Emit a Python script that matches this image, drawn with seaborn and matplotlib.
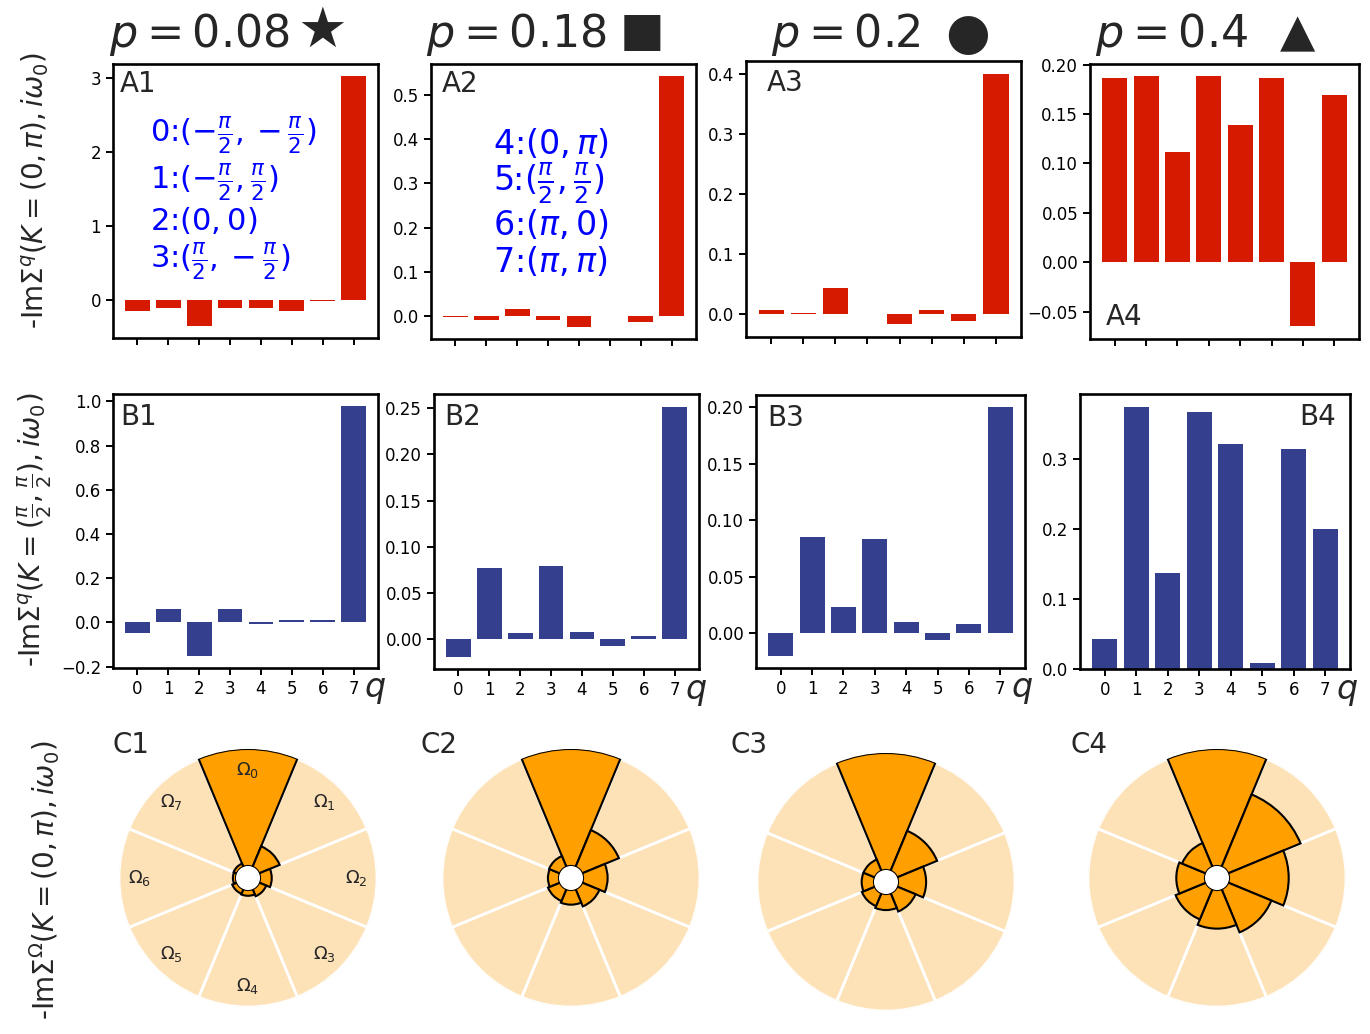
import numpy as np
import matplotlib
matplotlib.use("Agg")
import matplotlib.pyplot as plt
from matplotlib.ticker import MultipleLocator
import seaborn as sns

# momentum transfer index
q = [0, 1, 2, 3, 4, 5, 6, 7]

p_titles = [r"$p=0.08$", r"$p=0.18$", r"$p=0.2$", r"$p=0.4$"]
p_markers = ["★", "■", "●", "▲"]

# -Im Sigma^q (K=(0,pi)) per q, one list per p
a_p008 = [-0.143, -0.11, -0.345, -0.11, -0.11, -0.143, -0.008, 3.02]
a_p018 = [-0.002, -0.009, 0.016, -0.009, -0.024, -0.001, -0.013, 0.542]
a_p020 = [0.006, 0.001, 0.043, -0.001, -0.018, 0.006, -0.013, 0.400]
a_p040 = [0.186, 0.188, 0.112, 0.188, 0.139, 0.186, -0.065, 0.169]

# -Im Sigma^q (K=(pi/2,pi/2)) per q
b_p008 = [-0.048, 0.060, -0.150, 0.060, -0.007, 0.010, 0.010, 0.977]
b_p018 = [-0.019, 0.0767, 0.0065, 0.079, 0.0076, -0.0076, 0.0032, 0.252]
b_p020 = [-0.020, 0.0853, 0.0229, 0.0836, 0.0097, -0.0062, 0.0079, 0.1997]
b_p040 = [0.0427, 0.374, 0.1376, 0.367, 0.321, 0.008, 0.314, 0.200]

# -Im Sigma^Omega (K=(0,pi)), normalised to the largest sector
c_full = [1, 1, 1, 1, 1, 1, 1, 1]
c_p008 = [1.0, 0.19, 0.10, 0.066, 0.049, 0.043, 0.026, 0.03]
c_p018 = [1.0, 0.34, 0.21, 0.16, 0.125, 0.11, 0.094, 0.10]
c_p020 = [1.0, 0.37, 0.24, 0.17, 0.137, 0.12, 0.105, 0.105]
c_p040 = [1.0, 0.67, 0.51, 0.40, 0.33, 0.28, 0.245, 0.22]

omega_labels = [rf"$\Omega_{i}$" for i in range(8)]

# momentum legend text
legend_a1 = [r"0:$(-\frac{\pi}{2},-\frac{\pi}{2})$", r"1:$(-\frac{\pi}{2},\frac{\pi}{2})$",
             r"2:$(0,0)$", r"3:$(\frac{\pi}{2},-\frac{\pi}{2})$"]
legend_a2 = [r"4:$(0,\pi)$", r"5:$(\frac{\pi}{2},\frac{\pi}{2})$",
             r"6:$(\pi,0)$", r"7:$(\pi,\pi)$"]

a_vals = [a_p008, a_p018, a_p020, a_p040]
b_vals = [b_p008, b_p018, b_p020, b_p040]
c_vals = [c_p008, c_p018, c_p020, c_p040]

a_steps = [1.0, 0.1, 0.1, 0.05]
b_steps = [0.2, 0.05, 0.05, 0.1]

RED = "#d51a00"
BLUE = "#343f8e"
ORANGE = "#ff9f00"
LIGHT = "#fde2b8"

sns.set_style("ticks")
plt.rcParams.update({
    "font.family": ["DejaVu Sans"],
    "axes.edgecolor": "black",
    "axes.linewidth": 1.9,
    "xtick.color": "black",
    "ytick.color": "black",
    "xtick.major.width": 1.4,
    "ytick.major.width": 1.4,
    "xtick.major.size": 5,
    "ytick.major.size": 5,
    "xtick.labelsize": 12,
    "ytick.labelsize": 12,
})

W, H = 1370, 1034
fig = plt.figure(figsize=(W / 100, H / 100), dpi=100)


def px_rect(x0, y0, x1, y1):
    return [x0 / W, 1 - y1 / H, (x1 - x0) / W, (y1 - y0) / H]


a_rects = [px_rect(113, 64, 378, 338), px_rect(431, 64, 696, 339),
           px_rect(746, 61, 1021, 337), px_rect(1090, 64, 1359, 339)]
b_rects = [px_rect(113, 394, 378, 668), px_rect(434, 394, 699, 669),
           px_rect(756, 395, 1025, 668), px_rect(1080, 394, 1350, 669)]
c_centers = [(248, 878), (571, 878), (886, 882), (1217, 878)]
R = 129


def bar_panel(rect, vals, color, step):
    ax = fig.add_axes(rect)
    sns.barplot(x=q, y=vals, native_scale=True, orient="x", color=color,
                saturation=1, linewidth=0, errorbar=None, ax=ax)
    ax.set_xticks(q)
    ax.set_xlim(-0.79, 7.79)
    ax.yaxis.set_major_locator(MultipleLocator(step))
    ax.set_xlabel("")
    ax.set_ylabel("")
    for s in ax.spines.values():
        s.set_visible(True)
    return ax


# row A
a_tags = [("A1", 0.026, 0.927, "left"), ("A2", 0.04, 0.927, "left"),
          ("A3", 0.076, 0.92, "left"), ("A4", 0.06, 0.08, "left")]
for i in range(4):
    ax = bar_panel(a_rects[i], a_vals[i], RED, a_steps[i])
    ax.tick_params(labelbottom=False)
    tag, tx, ty, ha = a_tags[i]
    ax.text(tx, ty, tag, transform=ax.transAxes, fontsize=20, ha=ha, va="center")
    if i == 0:
        for txt, yy in zip(legend_a1, [0.74, 0.57, 0.43, 0.28]):
            ax.text(0.14, yy, txt, transform=ax.transAxes, color="blue",
                    fontsize=22, va="center")
    if i == 1:
        for txt, yy in zip(legend_a2, [0.71, 0.567, 0.415, 0.28]):
            ax.text(0.235, yy, txt, transform=ax.transAxes, color="blue",
                    fontsize=24, va="center")

# row B
b_tags = [("B1", 0.026, "left"), ("B2", 0.04, "left"),
          ("B3", 0.04, "left"), ("B4", 0.95, "right")]
for i in range(4):
    ax = bar_panel(b_rects[i], b_vals[i], BLUE, b_steps[i])
    tag, tx, ha = b_tags[i]
    ax.text(tx, 0.916, tag, transform=ax.transAxes, fontsize=20, ha=ha, va="center")
    ax.text(0.99, -0.08, r"$q$", transform=ax.transAxes, fontsize=24,
            ha="center", va="center")

# row C: polar sector charts
theta = np.deg2rad(np.arange(8) * 45.0)
sector = 2 * np.pi / 8
for i in range(4):
    cx, cy = c_centers[i]
    axp = fig.add_axes(px_rect(cx - R, cy - R, cx + R, cy + R), projection="polar")
    axp.set_theta_zero_location("N")
    axp.set_theta_direction(-1)
    axp.bar(theta, c_full, width=sector, bottom=0, color=LIGHT,
            edgecolor="white", linewidth=2)
    axp.bar(theta, c_vals[i], width=sector, bottom=0, color=ORANGE,
            edgecolor="black", linewidth=1.5)
    axp.set_ylim(0, 1)
    axp.set_rorigin(-0.103)
    axp.set_axis_off()
    if i == 0:
        for th, lab in zip(theta, omega_labels):
            axp.text(th, 0.82, lab, fontsize=13, ha="center", va="center")

c_tag_x = [113, 420, 731, 1070]
for i in range(4):
    fig.text(c_tag_x[i] / W, 1 - 745 / H, f"C{i + 1}", fontsize=20, va="center")

# column titles with their markers
title_x = [109, 426, 771, 1095]
marker_x = [322, 642, 968, 1297]
marker_y = [32, 32, 35, 34]
marker_fs = [40, 34, 37, 33]
for i in range(4):
    fig.text(title_x[i] / W, 1 - 34 / H, p_titles[i], fontsize=32,
             ha="left", va="center")
    fig.text(marker_x[i] / W, 1 - marker_y[i] / H, p_markers[i],
             fontsize=marker_fs[i], ha="center", va="center")

# row labels
fig.text(35 / W, 1 - 190 / H, r"-Im$\Sigma^q(K=(0,\pi),i\omega_0)$",
         rotation=90, fontsize=20, ha="center", va="center")
fig.text(35 / W, 1 - 530 / H, r"-Im$\Sigma^q(K=(\frac{\pi}{2},\frac{\pi}{2}),i\omega_0)$",
         rotation=90, fontsize=20, ha="center", va="center")
fig.text(45 / W, 1 - 880 / H, r"-Im$\Sigma^\Omega(K=(0,\pi),i\omega_0)$",
         rotation=90, fontsize=20, ha="center", va="center")

fig.savefig("out.png", dpi=100)
